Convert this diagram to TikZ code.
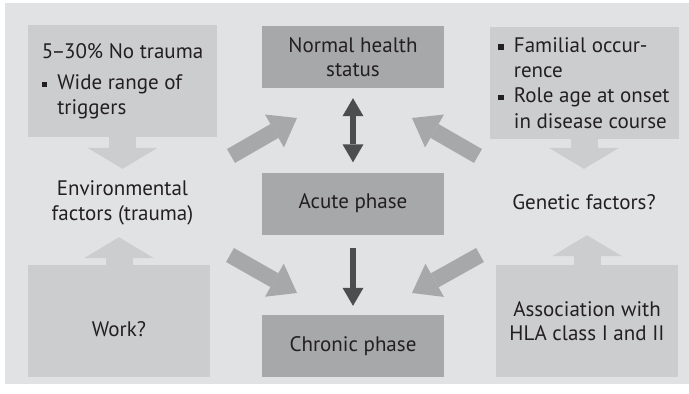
\documentclass[tikz,border=0pt]{standalone}
\usepackage{fontspec}
\setmainfont{PT Sans}
\usetikzlibrary{arrows.meta}
\definecolor{panelbg}{RGB}{225,226,228}
\definecolor{boxlight}{RGB}{204,205,207}
\definecolor{boxdark}{RGB}{167,168,170}
\definecolor{arrowdark}{RGB}{77,77,79}
\definecolor{textdark}{RGB}{35,31,32}
\newcommand{\sqbullet}{\rule[2.6pt]{5.5pt}{5.5pt}}
\newcommand{\sqitem}{\sqbullet\hspace{10pt}}
\newcommand{\sqgap}{\hspace*{15.5pt}}

\begin{document}
\begin{tikzpicture}[x=1pt,y=-1pt,
    every node/.style={font=\fontsize{21}{24.5}\selectfont, text=textdark},
    lightbox/.style={fill=boxlight, inner sep=0pt, align=left},
    darkbox/.style={fill=boxdark, inner sep=0pt, align=center, minimum width=182pt, minimum height=62pt},
    factortext/.style={inner sep=0pt, align=center, minimum height=68pt},
    softarrow/.style={line width=27pt, boxlight, -{Triangle[length=21pt,width=70pt,line width=0pt]}},
    fatarrow/.style={line width=16pt, boxdark, -{Triangle[length=26pt,width=38pt,line width=0pt]}},
    thinarrow/.style={line width=6pt, arrowdark, >={Triangle[length=18pt,width=21pt,line width=0pt]}, ->}]
  \useasboundingbox (0,0) rectangle (689,394);
  \fill[panelbg] (5,3) rectangle (689,384);

  % boxes and texts
  \node[lightbox, minimum width=189pt, minimum height=112pt] (triggers) at (122.5,81)
    {5\kern-1.5pt--\kern-1.5pt30\% No trauma\\[7pt]\sqitem Wide range of\\\sqgap triggers};
  \node[lightbox, minimum width=189pt, minimum height=112pt, font=\fontsize{21}{25.3}\selectfont] (familial) at (584,83)
    {\sqitem Familial occur-\\\sqgap rence\\\sqitem Role age at onset\\\sqgap in disease course};
  \node[darkbox] (normal) at (353,57) {Normal health\\status};
  \node[darkbox] (acute) at (353,203.5) {Acute phase};
  \node[darkbox] (chronic) at (353,346) {Chronic phase};
  \node[lightbox, align=center, minimum width=182pt, minimum height=112pt, text height=30pt, text depth=0pt] (work) at (119,321) {Work?};
  \node[lightbox, align=center, minimum width=182pt, minimum height=112pt] (hla) at (587,321)
    {Association with\\HLA class I and II};
  \node[factortext] (env) at (122.5,203) {Environmental\\factors (trauma)};
  \node[factortext, minimum height=66pt] (genetic) at (584,202) {Genetic factors?};

  % light arrows
  \draw[softarrow] (triggers) -- (env);
  \draw[softarrow] (familial) -- (genetic);
  \draw[softarrow] (work.north) -- (work.north |- env.south);
  \draw[softarrow] (hla.north) -- (hla.north |- genetic.south);

  % diagonal arrows
  \coordinate (tailEN) at (231,156);
  \coordinate (tipEN) at (297,118);
  \coordinate (tailGN) at (478,156);
  \coordinate (tipGN) at (412,118);
  \coordinate (tailEC) at (230,255);
  \coordinate (tipEC) at (297,293);
  \coordinate (tailGC) at (480,255);
  \coordinate (tipGC) at (412,293);
  \draw[fatarrow] (tailEN) -- (tipEN);
  \draw[fatarrow] (tailGN) -- (tipGN);
  \draw[fatarrow] (tailEC) -- (tipEC);
  \draw[fatarrow] (tailGC) -- (tipGC);

  % phases
  \draw[thinarrow, <->, shorten <=10pt, shorten >=10pt] (normal) -- (acute);
  \draw[thinarrow, shorten <=13pt, shorten >=9pt] (acute) -- (chronic);
\end{tikzpicture}
\end{document}
